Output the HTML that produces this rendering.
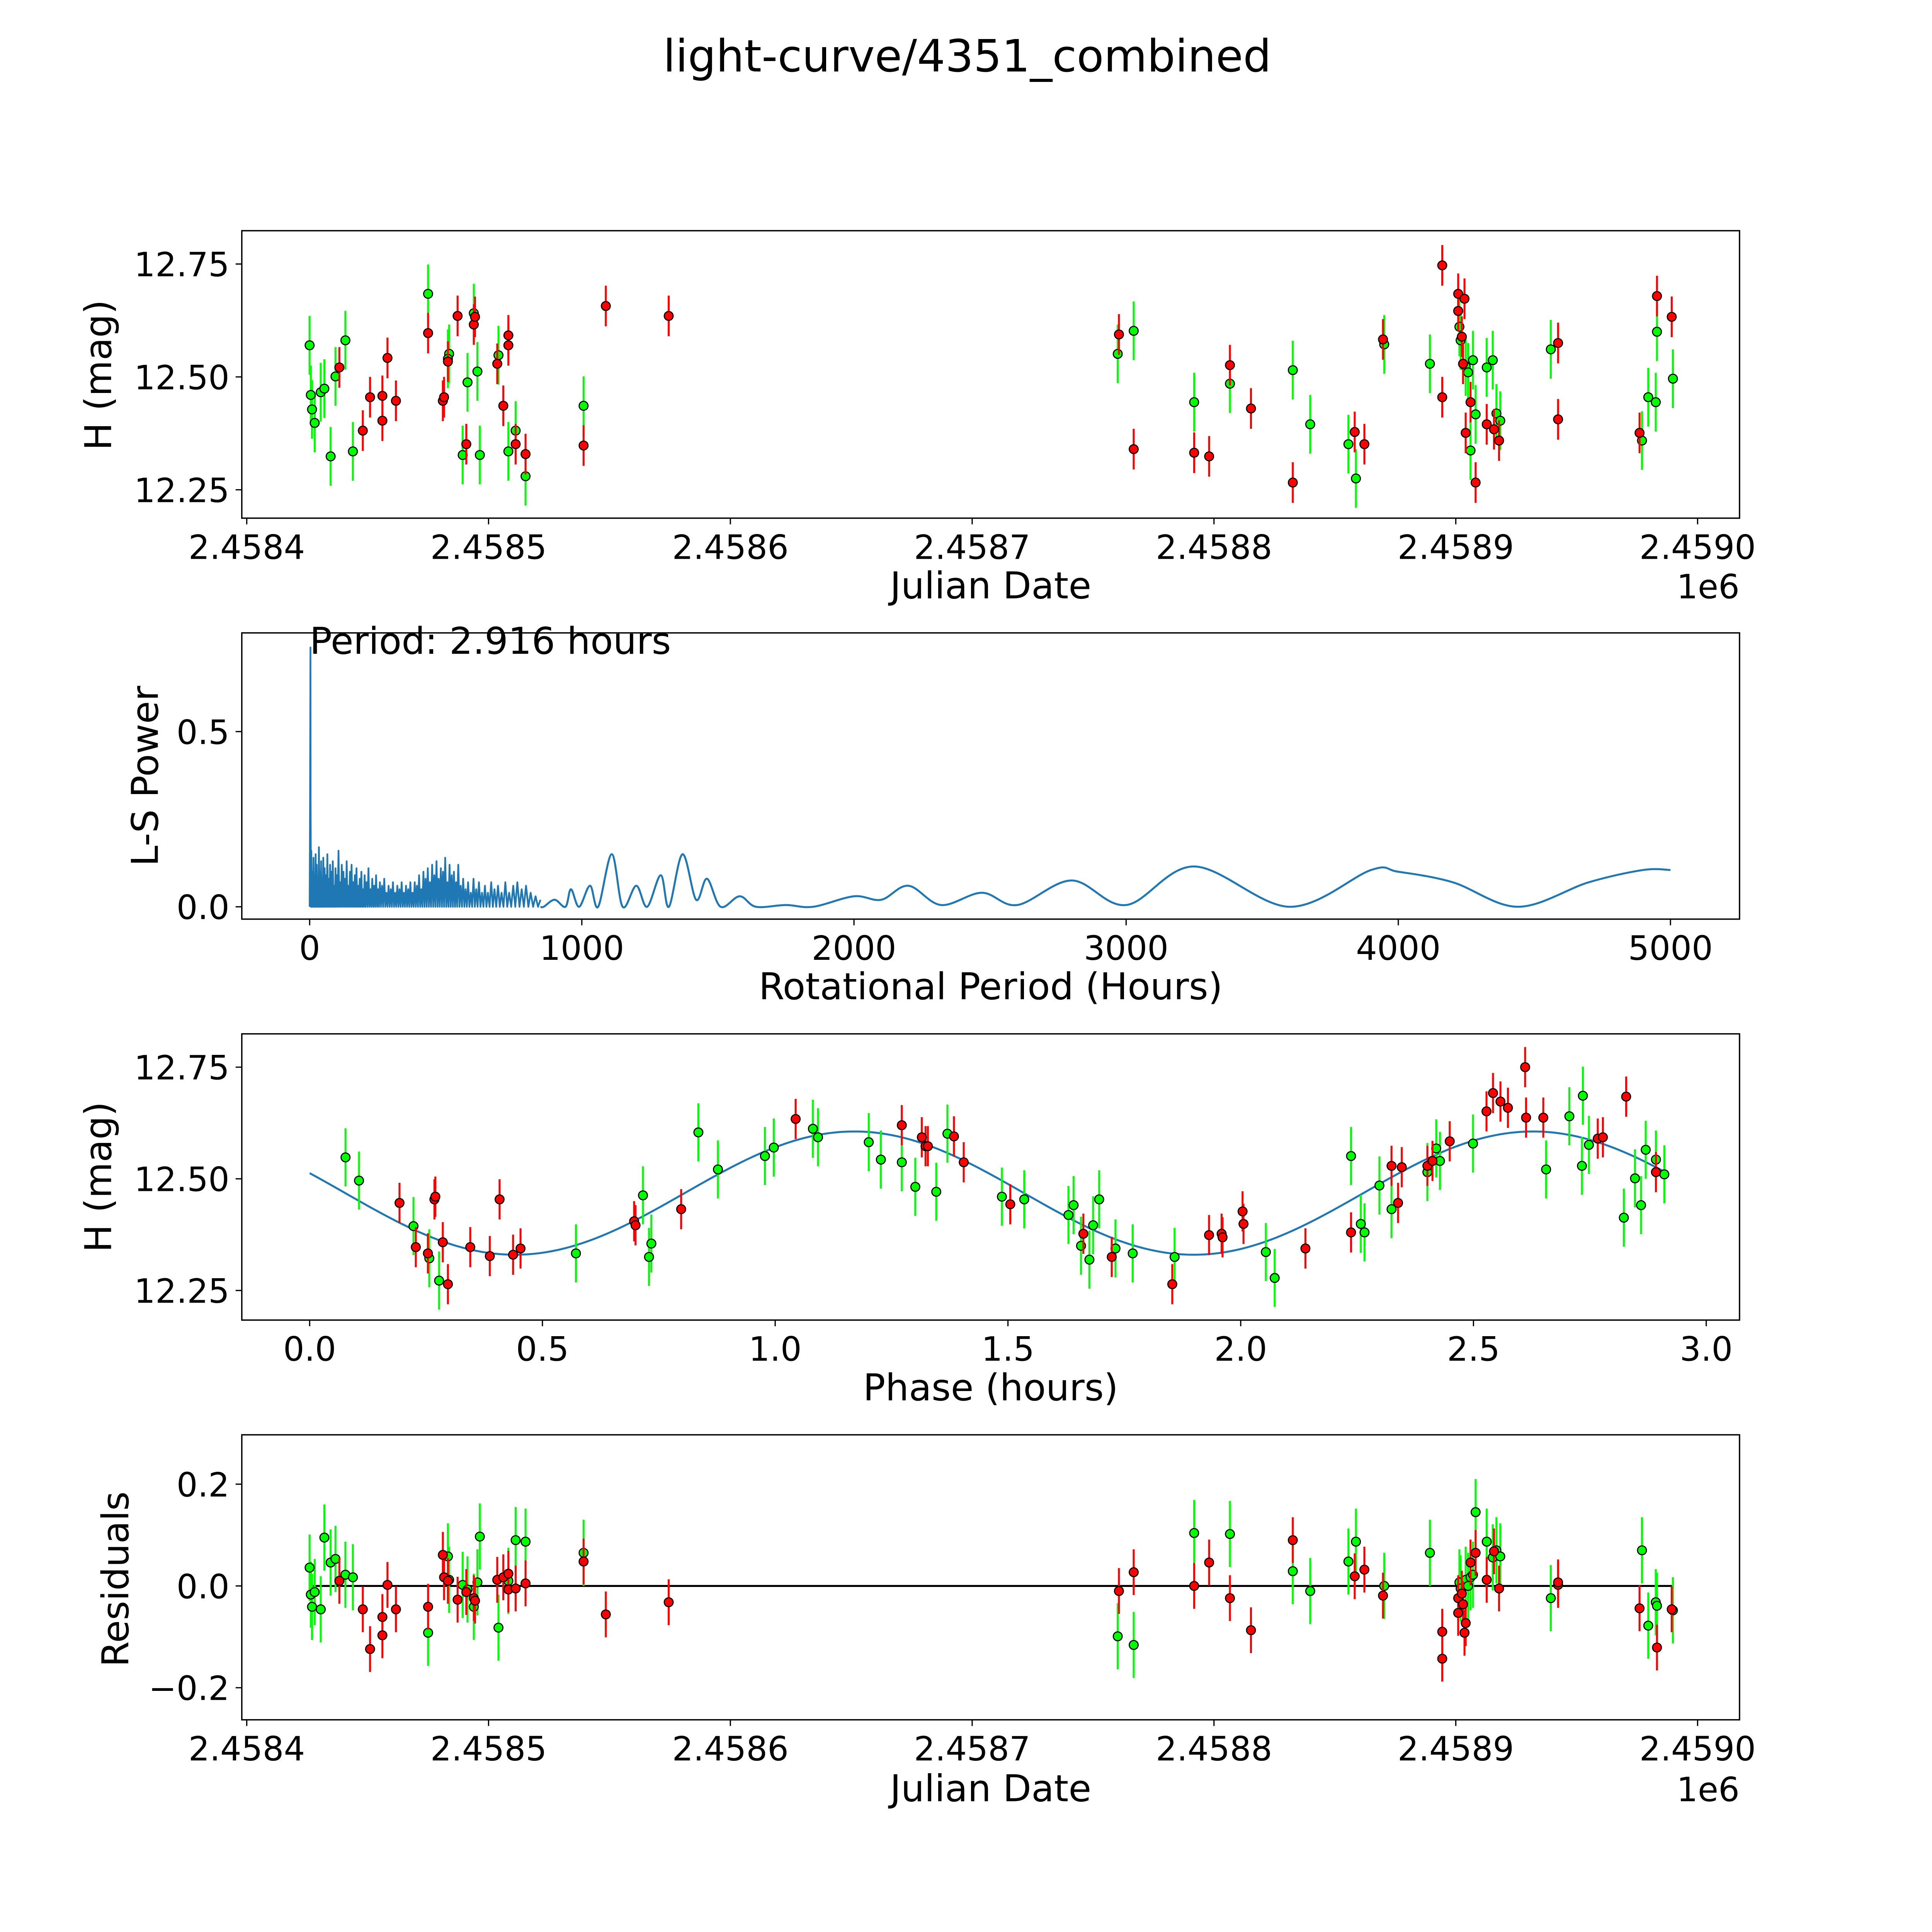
<!DOCTYPE html>
<html><head><meta charset="utf-8">
<style>
html,body{margin:0;padding:0;background:#fff;overflow:hidden;width:100%;height:100%;}
svg{display:block;width:100vw;height:100vh;}
text{font-family:"DejaVu Sans","Liberation Sans",sans-serif;fill:#000;}
</style></head>
<body>
<svg id="fig" xmlns="http://www.w3.org/2000/svg" viewBox="0 0 1566 1566" preserveAspectRatio="xMidYMid meet">
<rect x="0" y="0" width="1566" height="1566" fill="#fff"/>
<text x="784" y="58" font-size="36" text-anchor="middle">light-curve/4351_combined</text>
</svg>
<script>
// ===== Data (dates are days since JD 2458400) =====
const greenDates = [26.0,26.5,27.0,28.1,30.6,32.1,34.7,36.7,40.8,43.9,75.0,83.7,83.2,89.3,91.3,93.9,95.4,96.4,104.1,108.2,111.2,115.3,139.3,360.2,366.8,391.8,406.6,432.6,439.8,455.6,458.7,470.4,489.3,501.5,502.0,504.1,505.1,506.1,507.1,508.2,512.8,515.3,516.8,518.4,539.3,577.0,579.6,582.7,583.2,589.8];
const greenMags = [12.570,12.460,12.428,12.398,12.466,12.474,12.324,12.501,12.581,12.335,12.684,12.551,12.540,12.327,12.488,12.641,12.512,12.327,12.548,12.335,12.381,12.280,12.436,12.551,12.602,12.444,12.485,12.515,12.395,12.351,12.275,12.572,12.529,12.611,12.581,12.523,12.510,12.337,12.537,12.417,12.521,12.537,12.419,12.403,12.561,12.359,12.455,12.444,12.600,12.496];
const greenResid = [0.036,-0.017,-0.041,-0.012,-0.046,0.095,0.046,0.053,0.022,0.017,-0.092,0.012,0.058,0.002,-0.007,-0.041,0.007,0.097,-0.082,0.010,0.090,0.087,0.065,-0.099,-0.116,0.104,0.102,0.029,-0.010,0.048,0.087,0.0,0.065,0.007,-0.005,0.012,0.0,0.017,0.022,0.145,0.087,0.056,0.070,0.058,-0.024,0.070,-0.078,-0.032,-0.039,-0.048];
const redDates = [38.3,48.0,51.0,56.1,56.1,58.2,61.7,75.0,81.1,81.6,83.2,87.2,90.8,93.9,94.4,103.6,106.1,108.2,108.2,111.2,115.3,139.3,148.5,174.5,360.7,366.8,391.8,398.0,406.6,415.3,432.6,458.2,462.2,469.9,494.4,494.4,501.0,501.0,502.5,503.6,503.0,504.1,506.1,508.2,512.8,515.8,517.9,542.3,542.3,576.0,583.2,589.3];
const redMags = [12.521,12.381,12.455,12.458,12.403,12.542,12.447,12.597,12.447,12.455,12.534,12.635,12.351,12.616,12.633,12.529,12.436,12.592,12.570,12.351,12.329,12.348,12.657,12.635,12.594,12.340,12.332,12.324,12.526,12.430,12.266,12.378,12.351,12.583,12.747,12.455,12.684,12.646,12.589,12.673,12.529,12.376,12.444,12.266,12.395,12.384,12.359,12.575,12.406,12.376,12.679,12.633];
const redResid = [0.010,-0.046,-0.124,-0.097,-0.061,0.002,-0.046,-0.041,0.061,0.017,0.010,-0.027,-0.012,-0.024,-0.029,0.012,0.017,-0.007,0.024,-0.005,0.005,0.048,-0.056,-0.032,-0.010,0.027,0.0,0.046,-0.024,-0.087,0.090,0.019,0.032,-0.019,-0.143,-0.090,-0.024,-0.053,-0.015,-0.092,-0.036,-0.073,0.046,0.065,0.012,0.068,-0.005,0.002,0.007,-0.044,-0.121,-0.046];
const greenPhase = [0.077,0.106,0.223,0.257,0.278,0.572,0.716,0.729,0.734,0.835,0.877,0.978,0.997,1.081,1.092,1.201,1.227,1.272,1.301,1.346,1.370,1.487,1.535,1.630,1.641,1.657,1.675,1.683,1.696,1.731,1.768,1.858,2.054,2.073,2.237,2.258,2.266,2.298,2.324,2.401,2.420,2.428,2.499,2.656,2.706,2.735,2.733,2.748,2.823,2.847,2.860,2.870,2.892,2.910];
const greenPhaseMags = [12.548,12.496,12.394,12.322,12.272,12.333,12.463,12.325,12.355,12.604,12.521,12.551,12.570,12.612,12.593,12.582,12.543,12.537,12.482,12.471,12.601,12.460,12.454,12.419,12.441,12.350,12.319,12.396,12.454,12.344,12.333,12.325,12.336,12.278,12.551,12.399,12.380,12.485,12.432,12.515,12.568,12.540,12.579,12.521,12.640,12.686,12.529,12.576,12.413,12.501,12.441,12.565,12.543,12.510];
const redPhase = [0.193,0.228,0.254,0.268,0.270,0.286,0.297,0.345,0.387,0.408,0.437,0.453,0.697,0.700,0.798,1.044,1.272,1.315,1.323,1.328,1.384,1.405,1.505,1.662,1.723,1.853,1.932,1.959,1.961,2.004,2.006,2.139,2.237,2.324,2.338,2.346,2.401,2.412,2.449,2.528,2.542,2.558,2.574,2.611,2.613,2.650,2.767,2.778,2.828,2.892];
const redPhaseMags = [12.446,12.347,12.333,12.454,12.460,12.358,12.264,12.347,12.327,12.454,12.330,12.344,12.405,12.396,12.432,12.634,12.620,12.593,12.573,12.573,12.595,12.537,12.443,12.377,12.325,12.264,12.374,12.377,12.369,12.427,12.399,12.344,12.380,12.529,12.446,12.526,12.529,12.540,12.584,12.651,12.692,12.673,12.659,12.750,12.637,12.637,12.590,12.593,12.684,12.515];
const errRed = 0.045;
const errGreen = 0.065;
// fit: mean, amplitude, peak phase, period(hours)
const fitParams = [12.468, 0.138, 1.17, 2.916];
// periodogram
const lsMainPeriods = [0, 1.5, 2.9, 3.5, 5];
const lsMainPower = [0.0, 0.30, 0.74, 0.30, 0.0];
const lsPeakPeriods = [6,10,14,18,22,26,30,34,38,42,46,50,55,60,65,70,75,80,85,90,95,100,106,112,118,124,130,136,142,148,154,160,166,172,178,184,190,196,202,209,216,223,230,237,244,251,258,266,274,282,290,298,306,314,322,330,338,346,354,362,370,378,386,394,402,410,418,426,434,442,450,458,466,474,482,490,498,506,514,522,530,538,546,555,564,573,582,592,602,612,622,633,644,655,667,679,692,705,719,733,748,763,779,795,812,830,848];
const lsPeakPower = [.16,.10,.14,.09,.15,.12,.08,.17,.10,.13,.07,.14,.11,.09,.15,.08,.12,.10,.13,.06,.11,.09,.16,.07,.12,.10,.08,.13,.06,.10,.12,.07,.09,.11,.06,.08,.10,.05,.09,.07,.11,.05,.08,.06,.09,.05,.07,.06,.08,.04,.06,.05,.07,.04,.06,.05,.07,.04,.06,.05,.07,.04,.07,.06,.09,.05,.10,.08,.11,.07,.12,.09,.13,.08,.11,.10,.14,.07,.12,.09,.10,.07,.12,.06,.08,.05,.07,.04,.08,.05,.07,.04,.06,.04,.07,.05,.06,.04,.07,.04,.06,.07,.05,.06,.04,.03,.02];
const lsSmoothPeriods = [860,900,940,960,990,1030,1060,1110,1150,1200,1240,1290,1320,1370,1420,1460,1510,1580,1640,1750,1850,2000,2100,2200,2320,2470,2600,2800,3000,3250,3600,3900,4000,4200,4440,4700,4900,5000];
const lsSmoothPower = [0.0,0.02,0.0,0.05,0.0,0.06,0.0,0.15,0.0,0.06,0.0,0.09,0.0,0.15,0.02,0.08,0.0,0.03,0.0,0.005,0.0,0.03,0.02,0.06,0.005,0.04,0.005,0.075,0.005,0.115,0.0,0.105,0.10,0.07,0.0,0.07,0.105,0.105];
const dateTicks = [0,100,200,300,400,500,600];
const dateTickLabels = ["2.4584","2.4585","2.4586","2.4587","2.4588","2.4589","2.4590"];
const magTicks = [12.25,12.50,12.75];
const magTickLabels = ["12.25","12.50","12.75"];
const periodTicks = [0,1000,2000,3000,4000,5000];
const periodTickLabels = ["0","1000","2000","3000","4000","5000"];
const powerTicks = [0.0,0.5];
const powerTickLabels = ["0.0","0.5"];
const phaseTicks = [0,0.5,1,1.5,2,2.5,3];
const phaseTickLabels = ["0.0","0.5","1.0","1.5","2.0","2.5","3.0"];
const residTicks = [-0.2,0,0.2];
const residTickLabels = ["\u22120.2","0.0","0.2"];

// ===== Rendering =====
const NS = "http://www.w3.org/2000/svg";
const fig = document.getElementById('fig');
function mk(tag, attrs, parent){
  const e = document.createElementNS(NS, tag);
  for (const k in attrs) e.setAttribute(k, attrs[k]);
  (parent||fig).appendChild(e);
  return e;
}
function lin(d0,d1,p0,p1){ return v => p0 + (v-d0)*(p1-p0)/(d1-d0); }

const L = 196, R = 1410;
const TF = 27, LF = 30;
const panels = [
  {top:187, bot:420, name:'lightcurve-panel'},
  {top:513, bot:745, name:'periodogram-panel'},
  {top:838, bot:1070, name:'phase-panel'},
  {top:1163, bot:1394, name:'residuals-panel'}
];
const xDate = lin(0,600,200,1376);
const yMag1 = lin(12.25,12.75,397,214);
const xPer = lin(0,5000,251,1354);
const yPow = lin(0,0.5,735,593);
const xPh = lin(0,3,251,1383);
const yMag3 = lin(12.25,12.75,1046,865);
const yRes = lin(-0.2,0.2,1368,1203);

function frame(p){
  const g = mk('g',{});
  
  
  const r = mk('rect',{x:L,y:p.top,width:R-L,height:p.bot-p.top,fill:'none',stroke:'#000','stroke-width':1.1});
  
  
  return g;
}
function xTicks(g, p, ticks, labels, sx, nm){
  ticks.forEach((t,i)=>{
    const x = sx(t);
    mk('line',{x1:x,x2:x,y1:p.bot,y2:p.bot+5,stroke:'#000','stroke-width':1},g);
    const tx = mk('text',{x:x,y:p.bot+33,'font-size':TF,'text-anchor':'middle'},g);
    tx.textContent = labels[i];
    
    
  });
}
function yTicks(g, p, ticks, labels, sy, nm){
  ticks.forEach((t,i)=>{
    const y = sy(t);
    mk('line',{x1:L-5,x2:L,y1:y,y2:y,stroke:'#000','stroke-width':1},g);
    const tx = mk('text',{x:L-10,y:y+10,'font-size':TF,'text-anchor':'end'},g);
    tx.textContent = labels[i];
    
    
  });
}
function label(g, txt, x, y, rot, nm){
  const t = mk('text',{x:x,y:y,'font-size':LF,'text-anchor':'middle'},g);
  if (rot) t.setAttribute('transform','rotate(-90 '+x+' '+y+')');
  t.textContent = txt;
  
  
}
function points(g, xs, ys, sx, sy, err, color, nm){
  xs.forEach((xv,i)=>{
    const x = sx(xv);
    const y1 = sy(ys[i]-err), y2 = sy(ys[i]+err);
    const l = mk('line',{x1:x,x2:x,y1:y1,y2:y2,stroke:color,'stroke-width':1.6},g);
    
    
  });
  xs.forEach((xv,i)=>{
    const c = mk('circle',{cx:sx(xv),cy:sy(ys[i]),r:3.6,fill:color,stroke:'#000','stroke-width':0.9},g);
    
    
  });
}
function offsetLabel(g, y){
  const o = mk('text',{x:1410,y:y,'font-size':TF,'text-anchor':'end'},g); o.textContent='1e6';
   
}
const GREEN = '#00ff00', RED = '#ff0000';

{
  const p = panels[0]; const g = frame(p);
  xTicks(g,p,dateTicks,dateTickLabels,xDate,'x-axis');
  yTicks(g,p,magTicks,magTickLabels,yMag1,'y-axis');
  label(g,'Julian Date',803,485,false,'x-axis-title');
  offsetLabel(g,485);
  label(g,'H (mag)',90,304,true,'y-axis-title');
  points(g,greenDates,greenMags,xDate,yMag1,errGreen,GREEN,'green');
  points(g,redDates,redMags,xDate,yMag1,errRed,RED,'red');
}
{
  const p = panels[1]; const g = frame(p);
  xTicks(g,p,periodTicks,periodTickLabels,xPer,'x-axis');
  yTicks(g,p,powerTicks,powerTickLabels,yPow,'y-axis');
  label(g,'Rotational Period (Hours)',803,810,false,'x-axis-title');
  label(g,'L-S Power',128,629,true,'y-axis-title');
  let pts = [];
  lsMainPeriods.forEach((v,i)=>pts.push([v,lsMainPower[i]]));
  let prev = lsMainPeriods[lsMainPeriods.length-1];
  lsPeakPeriods.forEach((v,i)=>{ pts.push([(prev+v)/2,0]); pts.push([v,lsPeakPower[i]]); prev=v; });
  const d1 = pts.map((q,i)=>(i?'L':'M')+xPer(q[0]).toFixed(2)+' '+yPow(q[1]).toFixed(2)).join(' ');
  const path1 = mk('path',{d:d1,fill:'none',stroke:'#1f77b4','stroke-width':1.4,'stroke-linejoin':'round'},g);
  
  
  // smooth part via Catmull-Rom
  const sp = [[prev,0]];
  lsSmoothPeriods.forEach((v,i)=>sp.push([v,lsSmoothPower[i]]));
  const P = sp.map(q=>[xPer(q[0]), yPow(q[1])]);
  let d2 = 'M'+P[0][0].toFixed(2)+' '+P[0][1].toFixed(2);
  for (let i=0;i<P.length-1;i++){
    const p0=P[Math.max(0,i-1)], p1=P[i], p2=P[i+1], p3=P[Math.min(P.length-1,i+2)];
    const c1=[p1[0]+(p2[0]-p0[0])/6, p1[1]+(p2[1]-p0[1])/6];
    const c2=[p2[0]-(p3[0]-p1[0])/6, p2[1]-(p3[1]-p1[1])/6];
    d2 += ' C'+c1[0].toFixed(2)+' '+c1[1].toFixed(2)+' '+c2[0].toFixed(2)+' '+c2[1].toFixed(2)+' '+p2[0].toFixed(2)+' '+p2[1].toFixed(2);
  }
  const path2 = mk('path',{d:d2,fill:'none',stroke:'#1f77b4','stroke-width':1.6},g);
  
  
  const t = mk('text',{x:251,y:530,'font-size':LF},g);
  t.textContent = 'Period: 2.916 hours';
  
  
}
{
  const p = panels[2]; const g = frame(p);
  xTicks(g,p,phaseTicks,phaseTickLabels,xPh,'x-axis');
  yTicks(g,p,magTicks,magTickLabels,yMag3,'y-axis');
  label(g,'Phase (hours)',803,1135,false,'x-axis-title');
  label(g,'H (mag)',90,954,true,'y-axis-title');
  const [m,a,ph0,per] = fitParams;
  let d=''; const N=300;
  for (let i=0;i<=N;i++){ const ph = per*i/N; const v = m + a*Math.cos(4*Math.PI*(ph-ph0)/per);
    d += (i?'L':'M')+xPh(ph).toFixed(2)+' '+yMag3(v).toFixed(2)+' '; }
  const path = mk('path',{d:d,fill:'none',stroke:'#1f77b4','stroke-width':1.6},g);
  
  
  points(g,greenPhase,greenPhaseMags,xPh,yMag3,errGreen,GREEN,'green');
  points(g,redPhase,redPhaseMags,xPh,yMag3,errRed,RED,'red');
}
{
  const p = panels[3]; const g = frame(p);
  xTicks(g,p,dateTicks,dateTickLabels,xDate,'x-axis');
  yTicks(g,p,residTicks,residTickLabels,yRes,'y-axis');
  label(g,'Julian Date',803,1460,false,'x-axis-title');
  offsetLabel(g,1460);
  label(g,'Residuals',104,1280,true,'y-axis-title');
  const allD = greenDates.concat(redDates);
  const zl = mk('line',{x1:xDate(Math.min(...allD)),x2:xDate(Math.max(...allD)),y1:yRes(0),y2:yRes(0),stroke:'#000','stroke-width':1.6},g);
  
  
  points(g,greenDates,greenResid,xDate,yRes,errGreen,GREEN,'green');
  points(g,redDates,redResid,xDate,yRes,errRed,RED,'red');
}
</script>
</body></html>
